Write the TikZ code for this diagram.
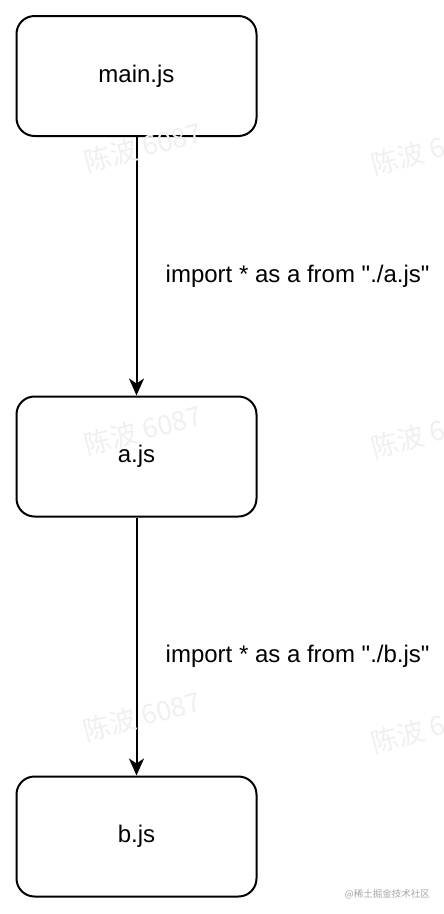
\documentclass[tikz,border=0pt]{standalone}
\usepackage{fontspec}
\setmainfont{Liberation Sans}[Ligatures=TeXOff]
\newfontfamily\cjkfont{Noto Sans CJK SC}
\usetikzlibrary{arrows.meta}
\begin{document}
\begin{tikzpicture}[x=1pt,y=1pt,
  filebox/.style={draw=black,line width=2pt,rounded corners=18pt,minimum width=240pt,minimum height=120pt,inner sep=0pt,font=\fontsize{24}{28}\selectfont,fill=white},
  importlabel/.style={anchor=west,inner sep=0pt,font=\fontsize{24}{28}\selectfont},
  conn/.style={line width=2pt,-{Stealth[length=17pt,width=15pt,inset=5pt]}},
  wmark/.style={text=black!6,rotate=15,font=\cjkfont\fontsize{27}{30}\selectfont,inner sep=0pt},
  site/.style={text=black!35,font=\cjkfont\fontsize{9.5}{11}\selectfont,inner sep=0pt,anchor=east}]
\useasboundingbox (0,0) rectangle (444,-914);
\fill[white] (0,0) rectangle (444,-914);
% boxes
\node[filebox] (main) at (136.5,-76) {main.js};
\node[filebox] (a) at (136.5,-456.5) {a.js};
\node[filebox] (b) at (136.5,-836.5) {b.js};
% connectors
\draw[conn] (main.south) -- (a.north);
\draw[conn] (a.south) -- (b.north);
% labels
\node[importlabel] (l1) at (165.5,-276) {import * as a from "./a.js"};
\node[importlabel] (l2) at (165.5,-656) {import * as a from "./b.js"};
% watermarks
\node[wmark] (w1) at (143,-147) {陈波 6087};
\node[wmark] (w2) at (430,-150) {陈波 6087};
\node[wmark] (w3) at (143,-430) {陈波 6087};
\node[wmark] (w4) at (430,-433) {陈波 6087};
\node[wmark] (w5) at (142,-716) {陈波 6087};
\node[wmark] (w6) at (430,-728) {陈波 6087};
\node[site] (s) at (430,-894) {@稀土掘金技术社区};
\end{tikzpicture}
\end{document}
